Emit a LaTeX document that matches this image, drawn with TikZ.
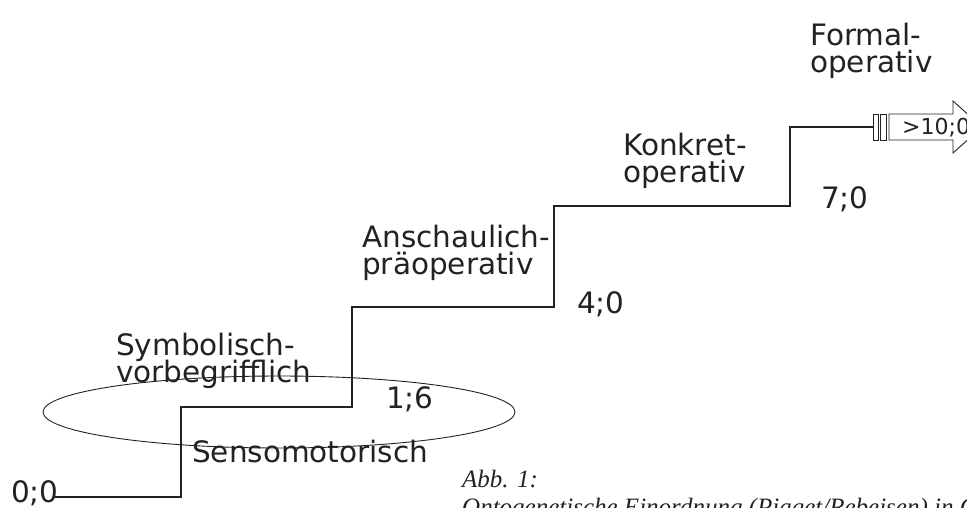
\documentclass[tikz,border=0pt]{standalone}
\usepackage{fontspec}
\usetikzlibrary{shapes.geometric}
\setmainfont{DejaVu Sans}
\newfontfamily\capfont{Liberation Serif}
\definecolor{ink}{HTML}{222222}
\begin{document}
\begin{tikzpicture}[x=1pt,y=-1pt,
  lbl/.style={anchor=base west,inner sep=0pt,text=ink,font=\fontsize{29.5}{27}\selectfont},
  captxt/.style={anchor=base west,inner sep=0pt,text=ink,font=\capfont\itshape\fontsize{25}{28}\selectfont},
  stair/.style={draw=ink,line width=2.3pt},
  thin/.style={draw=ink,line width=0.9pt}]
\useasboundingbox (0,0) rectangle (967,507);
% ellipse
\node[thin,ellipse,minimum width=472pt,minimum height=72pt,inner sep=0pt] (ell) at (279,412) {};
% staircase corners
\coordinate (s0) at (55,497);
\coordinate (s1) at (181,497);
\coordinate (s2) at (181,407);
\coordinate (s3) at (352,407);
\coordinate (s4) at (352,307);
\coordinate (s5) at (554,307);
\coordinate (s6) at (554,206);
\coordinate (s7) at (790,206);
\coordinate (s8) at (790,127);
\coordinate (s9) at (873,127);
\draw[stair] (s0) -- (s1) -- (s2) -- (s3) -- (s4) -- (s5) -- (s6) -- (s7) -- (s8) -- (s9);
% break bars
\draw[thin,fill=white] (873,114) rectangle (878,140);
\draw[thin,fill=white] (880.5,114) rectangle (886.5,140);
% arrow
\draw[thin,fill=white] (889,114) -- (953,114) -- (953,101) -- (982,127) -- (953,153) -- (953,140) -- (889,140) -- cycle;
\node[anchor=base west,inner sep=0pt,text=ink,font=\fontsize{22}{22}\selectfont] (gt) at (902,134) {>10;0};
% labels
\node[lbl] (f1) at (810,45) {Formal-};
\node[lbl] (f2) at (810,72) {operativ};
\node[lbl] (k1) at (623,155) {Konkret-};
\node[lbl] (k2) at (623,182) {operativ};
\node[lbl] (a7) at (821,208) {7;0};
\node[lbl] (an1) at (362,247) {Anschaulich-};
\node[lbl] (an2) at (362,274) {präoperativ};
\node[lbl] (a4) at (577,313) {4;0};
\node[lbl] (sy1) at (116,355) {Symbolisch-};
\node[lbl] (sy2) at (116,382) {vorbegrifflich};
\node[lbl] (a16) at (386,408) {1;6};
\node[lbl] (se) at (192,462) {Sensomotorisch};
\node[lbl] (a0) at (11,502) {0;0};
% caption
\node[captxt] (c1) at (462,487) {Abb. 1:};
\node[captxt] (c2) at (462,515) {Ontogenetische Einordnung (Piaget/Rebeisen) in G};
\end{tikzpicture}
\end{document}
